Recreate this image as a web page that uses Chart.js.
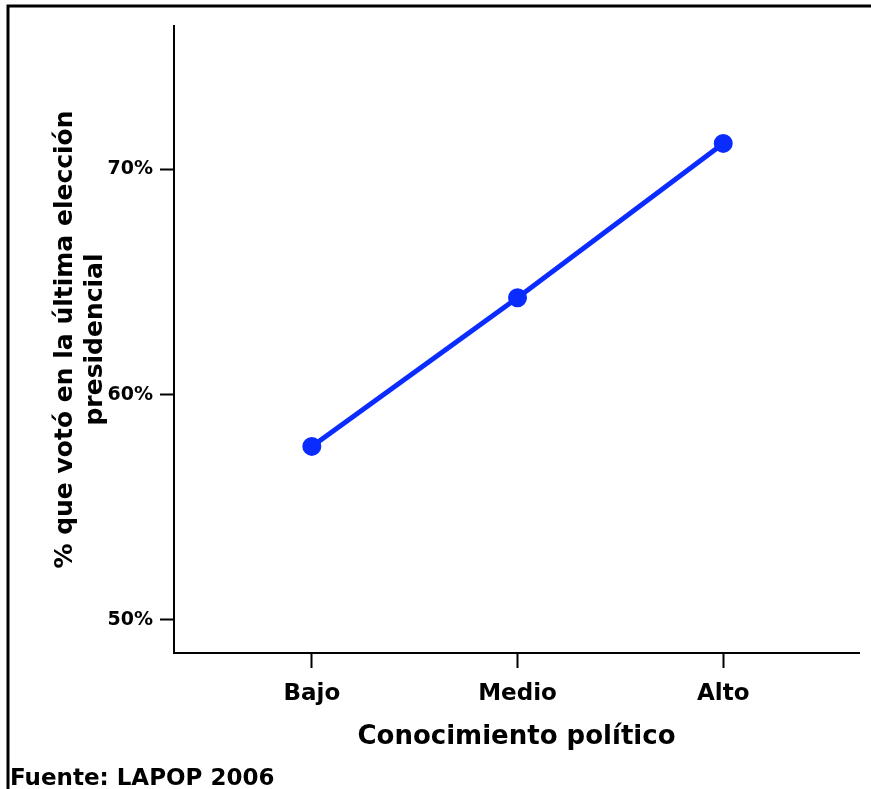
<!DOCTYPE html>
<html>
<head>
<meta charset="utf-8">
<script src="https://cdn.jsdelivr.net/npm/chart.js@4.4.1/dist/chart.umd.min.js"></script>
<style>
  html, body { margin: 0; padding: 0; background: #fff; }
  #wrap { width: 871px; height: 789px; }
</style>
</head>
<body>
<div id="wrap"><canvas id="voteChart" width="871" height="789"></canvas></div>
<script>
// Datos
const categories = ["Bajo", "Medio", "Alto"];
const values = [57.7, 64.3, 71.15];
const yTicks = [50, 60, 70];
const yTitle = ["% que votó en la última elección", "presidencial"];
const xTitle = "Conocimiento político";
const source = "Fuente: LAPOP 2006";

const FONT = "'DejaVu Sans', sans-serif";

// Marco y fuente
const framePlugin = {
    id: 'frame',
    afterDraw(chart) {
        const c = chart.ctx;
        c.save();
        c.strokeStyle = '#000';
        c.lineWidth = 3;
        c.beginPath();
        c.moveTo(8, 789);
        c.lineTo(8, 6);
        c.lineTo(871, 6);
        c.stroke();
        c.fillStyle = '#000';
        c.font = "bold 23px " + FONT;
        c.textBaseline = 'alphabetic';
        c.fillText(source, 10, 785);
        c.restore();
    }
};

const ctx = document.getElementById('voteChart').getContext('2d');
new Chart(ctx, {
    type: 'line',
    data: {
        datasets: [{
            data: values.map((v, i) => ({ x: i, y: v })),
            borderColor: '#0a2cff',
            backgroundColor: '#0a2cff',
            borderWidth: 5,
            pointRadius: 7,
            pointHoverRadius: 7,
            tension: 0
        }]
    },
    options: {
        responsive: false,
        animation: false,
        layout: { padding: { top: 26, right: 6, bottom: 0, left: 0 } },
        plugins: { legend: { display: false }, tooltip: { enabled: false } },
        scales: {
            x: {
                type: 'linear',
                min: -0.67,
                max: 2.66,
                afterBuildTicks: s => { s.ticks = categories.map((_, i) => ({ value: i })); },
                afterFit: s => { s.height = 136; },
                ticks: {
                    callback: v => categories[v],
                    color: '#000',
                    font: { family: FONT, size: 23, weight: 'bold' },
                    padding: 12,
                    maxRotation: 0
                },
                grid: { drawOnChartArea: false, tickLength: 15, tickWidth: 2, color: '#000' },
                border: { color: '#000', width: 2 },
                title: {
                    display: true,
                    text: xTitle,
                    color: '#000',
                    font: { family: FONT, size: 26, weight: 'bold' },
                    padding: { top: 0, bottom: 36 }
                }
            },
            y: {
                min: 48.53,
                max: 76.36,
                afterBuildTicks: s => { s.ticks = yTicks.map(v => ({ value: v })); },
                afterFit: s => { s.width = 174; },
                ticks: {
                    callback: v => v + '%',
                    color: '#000',
                    font: { family: FONT, size: 19, weight: 'bold' },
                    padding: 7
                },
                grid: { drawOnChartArea: false, tickLength: 14, tickWidth: 2, color: '#000' },
                border: { color: '#000', width: 2 },
                title: {
                    display: true,
                    text: yTitle,
                    color: '#000',
                    font: { family: FONT, size: 25, weight: 'bold', lineHeight: 1.2 },
                    padding: { top: 50, bottom: 0 }
                }
            }
        }
    },
    plugins: [framePlugin]
});
</script>
</body>
</html>
